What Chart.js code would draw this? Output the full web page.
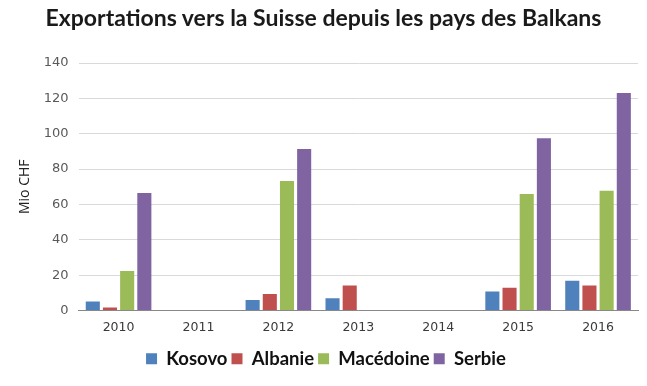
<!DOCTYPE html>
<html>
<head>
<meta charset="utf-8">
<script src="https://cdn.jsdelivr.net/npm/chart.js@4"></script>
<style>
  html, body { margin: 0; padding: 0; background: #fff; }
  #wrap { position: relative; width: 647px; height: 386px; }
  #title {
    position: absolute; left: 0; top: 3px; width: 647px; text-align: center;
    font-family: Lato, sans-serif; font-weight: 700; font-size: 23px;
    color: #1a1a1a; white-space: nowrap;
  }
</style>
</head>
<body>
<div id="wrap">
  <div id="title">Exportations vers la Suisse depuis les pays des Balkans</div>
  <canvas id="chart" width="647" height="386"></canvas>
</div>
<script>
// données (Mio CHF)
const years = ['2010', '2011', '2012', '2013', '2014', '2015', '2016'];
const kosovo = [5.1, null, 5.9, 7.0, null, 10.7, 16.8];
const albanie = [1.7, null, 9.3, 14.1, null, 12.8, 14.1];
const macedoine = [22.3, null, 73.3, null, null, 65.9, 67.8];
const serbie = [66.5, null, 91.4, null, null, 97.5, 123];

const ctx = document.getElementById('chart').getContext('2d');

new Chart(ctx, {
    type: 'bar',
    data: {
        labels: years,
        datasets: [
            { label: 'Kosovo', data: kosovo, backgroundColor: '#4F81BD' },
            { label: 'Albanie', data: albanie, backgroundColor: '#C0504D' },
            { label: 'Macédoine', data: macedoine, backgroundColor: '#9BBB59' },
            { label: 'Serbie', data: serbie, backgroundColor: '#8064A2' }
        ]
    },
    options: {
        responsive: false,
        animation: false,
        layout: { padding: { top: 63, left: 14, right: 9, bottom: 8 } },
        datasets: {
            bar: { categoryPercentage: 0.86, barPercentage: 0.82 }
        },
        plugins: {
            title: { display: false },
            tooltip: { enabled: false },
            legend: {
                position: 'bottom',
                labels: {
                    color: '#111',
                    boxWidth: 11,
                    boxHeight: 11,
                    padding: 4,
                    font: { family: 'Lato', weight: 'bold', size: 18.5 }
                }
            }
        },
        scales: {
            x: {
                grid: { display: false, drawTicks: false },
                border: { color: '#888', width: 1 },
                ticks: { color: '#3a3a3a', padding: 10, font: { family: 'DejaVu Sans', size: 12.5 } }
            },
            y: {
                min: 0,
                max: 140,
                ticks: { stepSize: 20, color: '#595959', padding: 10, font: { family: 'DejaVu Sans', size: 13 } },
                grid: { color: '#d9d9d9', drawTicks: false },
                border: { display: false },
                title: {
                    display: true,
                    text: 'Mio CHF',
                    color: '#222',
                    padding: { top: 3, bottom: 0 },
                    font: { family: 'Open Sans', size: 14 }
                }
            }
        }
    }
});
</script>
</body>
</html>
